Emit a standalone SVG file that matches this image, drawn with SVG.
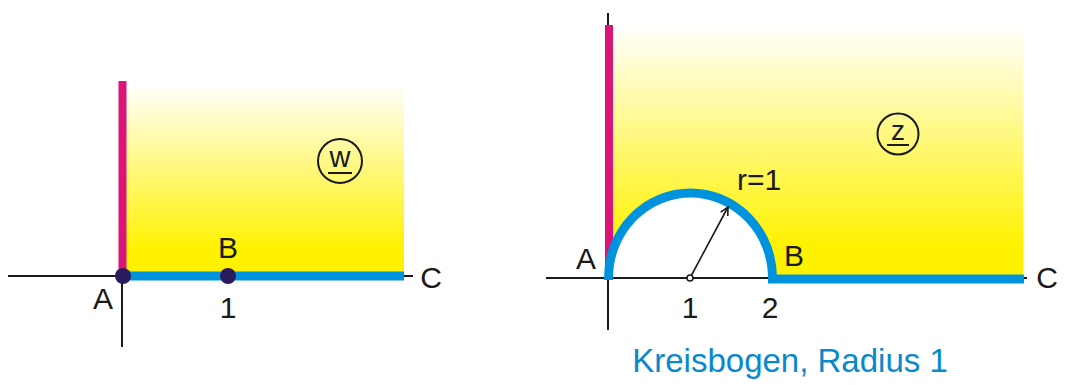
<svg xmlns="http://www.w3.org/2000/svg" width="1076" height="385" viewBox="0 0 1076 385">
<defs>
<linearGradient id="gL" x1="0" y1="0" x2="0" y2="1">
<stop offset="0" stop-color="#ffffff"/>
<stop offset="0.88" stop-color="#fff200"/>
<stop offset="1" stop-color="#fff200"/>
</linearGradient>
<linearGradient id="gR" x1="0" y1="0" x2="0" y2="1">
<stop offset="0" stop-color="#ffffff"/>
<stop offset="0.87" stop-color="#fff200"/>
<stop offset="1" stop-color="#fff200"/>
</linearGradient>
<marker id="arr" viewBox="0 0 10 10" refX="9" refY="5" markerWidth="10" markerHeight="10" markerUnits="userSpaceOnUse" orient="auto">
<path d="M1,1 L9,5 L1,9" fill="none" stroke="#1a1a1a" stroke-width="1.6"/>
</marker>
</defs>
<style>
.ax{stroke:#1a1a1a;stroke-width:2;fill:none}
.mag{stroke:#dc1478;stroke-width:8;fill:none}
.blu{stroke:#0093dd;stroke-width:9;fill:none}
.lbl{font-family:"Liberation Sans",Arial,sans-serif;font-size:30px;fill:#1a1a1a}
.cap{font-family:"Liberation Sans",Arial,sans-serif;font-size:33px;fill:#0a88cc}
.dot{fill:#2a1b5e}
.ring{fill:none;stroke:#1a1a1a;stroke-width:2}
</style>

<g id="left-panel">
<rect x="126" y="83" width="278" height="190" fill="url(#gL)"/>
<line class="ax" x1="8" y1="276" x2="122" y2="276"/>
<line class="ax" x1="122" y1="276" x2="122" y2="347"/>
<line class="ax" x1="404" y1="276" x2="413" y2="276"/>
<line class="mag" x1="122.5" y1="81" x2="122.5" y2="276"/>
<line class="blu" x1="122" y1="276" x2="404" y2="276"/>
<circle class="dot" cx="123" cy="276" r="8"/>
<circle class="dot" cx="228" cy="276" r="8"/>
<text class="lbl" x="103" y="309" text-anchor="middle">A</text>
<text class="lbl" x="228" y="258" text-anchor="middle">B</text>
<text class="lbl" x="431" y="288" text-anchor="middle">C</text>
<text class="lbl" x="228" y="318" text-anchor="middle">1</text>
<g id="w-label">
<circle class="ring" cx="340" cy="161" r="22"/>
<text x="340" y="167" text-anchor="middle" font-family="Liberation Sans, Arial, sans-serif" font-size="29" fill="#1a1a1a">w</text>
<line x1="328" y1="173" x2="352" y2="173" stroke="#1a1a1a" stroke-width="2"/>
</g>
</g>

<g id="right-panel">
<rect x="612" y="25" width="411" height="254" fill="url(#gR)"/>
<path d="M608.5 278 A82 85 0 0 1 772.5 278 Z" fill="#ffffff"/>
<line class="ax" x1="546" y1="278" x2="1027" y2="278"/>
<line class="ax" x1="608" y1="13" x2="608" y2="330"/>
<line class="mag" x1="609" y1="25" x2="609" y2="278"/>
<path class="blu" d="M608.5 280 L608.5 278 A82 85 0 0 1 772.5 278 L772.5 280"/>
<line class="blu" x1="768" y1="279" x2="1024" y2="279"/>
<line stroke="#1a1a1a" stroke-width="1.6" x1="690" y1="278" x2="728" y2="207" marker-end="url(#arr)"/>
<circle cx="690" cy="278" r="3" fill="#ffffff" stroke="#1a1a1a" stroke-width="1.5"/>
<text class="lbl" x="759" y="190" text-anchor="middle">r=1</text>
<text class="lbl" x="586" y="269" text-anchor="middle">A</text>
<text class="lbl" x="794" y="266" text-anchor="middle">B</text>
<text class="lbl" x="1047" y="288" text-anchor="middle">C</text>
<text class="lbl" x="690" y="318" text-anchor="middle">1</text>
<text class="lbl" x="770" y="318" text-anchor="middle">2</text>
<g id="z-label">
<circle class="ring" cx="898" cy="134" r="20.5"/>
<text x="898" y="140" text-anchor="middle" font-family="Liberation Sans, Arial, sans-serif" font-size="28" fill="#1a1a1a">z</text>
<line x1="887" y1="145" x2="909" y2="145" stroke="#1a1a1a" stroke-width="2"/>
</g>
<text class="cap" x="790" y="372" text-anchor="middle">Kreisbogen, Radius 1</text>
</g>
</svg>
